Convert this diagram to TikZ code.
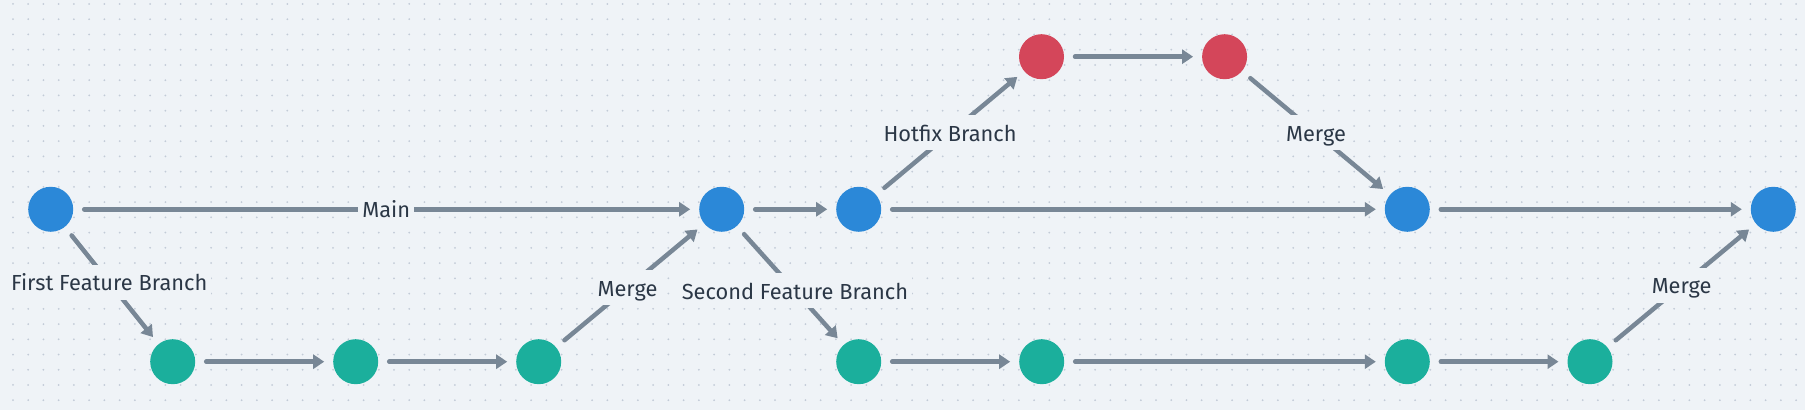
\documentclass[tikz,border=0pt]{standalone}
\usepackage{fontspec}
\setmainfont{Fira Sans}
\usetikzlibrary{arrows.meta}

\definecolor{bgcol}{HTML}{EFF3F7}
\definecolor{dotcol}{HTML}{C2CBD7}
\definecolor{maincol}{HTML}{2B88D8}
\definecolor{featcol}{HTML}{1BAF9C}
\definecolor{fixcol}{HTML}{D4465A}
\definecolor{linecol}{HTML}{788796}
\definecolor{txtcol}{HTML}{2B3746}

\begin{document}
\begin{tikzpicture}[x=0.5pt, y=-0.5pt,
    commit/.style={circle, inner sep=0pt, minimum size=22.5pt, outer sep=4.5pt},
    mainc/.style={commit, fill=maincol},
    featc/.style={commit, fill=featcol},
    fixc/.style={commit, fill=fixcol},
    link/.style={draw=linecol, line width=2.25pt, line cap=round,
      -{Triangle[length=5.5pt, width=7pt]}, shorten <=1pt},
    lbl/.style={fill=bgcol, text=txtcol, inner xsep=2pt, inner ysep=3.5pt,
      text height=9.5pt, text depth=1pt,
      font=\fontsize{10.9}{13}\selectfont}]

  % fond pointille
  \fill[bgcol] (0,0) rectangle (1805,410);
  \useasboundingbox (0,0) rectangle (1805,410);
  \foreach \i in {0,...,117}
    \foreach \j in {0,...,26}
      \fill[dotcol] (13+15.24*\i, 4+15.24*\j) circle (0.5pt);

  % branche principale
  \def\ym{209.3}
  \node[mainc] (m0) at (50.7,\ym) {};
  \node[mainc] (m1) at (721.7,\ym) {};
  \node[mainc] (m2) at (858.7,\ym) {};
  \node[mainc] (m3) at (1407.3,\ym) {};
  \node[mainc] (m4) at (1773.3,\ym) {};

  % branches de fonctionnalite
  \def\yf{361.7}
  \node[featc] (f1) at (172.7,\yf) {};
  \node[featc] (f2) at (355.7,\yf) {};
  \node[featc] (f3) at (538.7,\yf) {};
  \node[featc] (f4) at (858.7,\yf) {};
  \node[featc] (f5) at (1041.7,\yf) {};
  \node[featc] (f6) at (1407.3,\yf) {};
  \node[featc] (f7) at (1590,\yf) {};

  % branche hotfix
  \def\yh{56.7}
  \node[fixc] (h1) at (1041.5,\yh) {};
  \node[fixc] (h2) at (1224.6,\yh) {};

  % liens principaux
  \draw[link] (m0) -- node[lbl]{Main} (m1);
  \draw[link] (m1) -- (m2);
  \draw[link] (m2) -- (m3);
  \draw[link] (m3) -- (m4);

  % premiere fonctionnalite
  \draw[link] (m0) -- node[lbl, pos=0.47]{First Feature Branch} (f1);
  \draw[link] (f1) -- (f2);
  \draw[link] (f2) -- (f3);
  \draw[link] (f3) -- node[lbl, pos=0.48]{Merge} (m1);

  % seconde fonctionnalite
  \draw[link] (m1) -- node[lbl, pos=0.55]{Second Feature Branch} (f4);
  \draw[link] (f4) -- (f5);
  \draw[link] (f5) -- (f6);
  \draw[link] (f6) -- (f7);
  \draw[link] (f7) -- node[lbl]{Merge} (m4);

  % hotfix
  \draw[link] (m2) -- node[lbl]{Hotfix Branch} (h1);
  \draw[link] (h1) -- (h2);
  \draw[link] (h2) -- node[lbl]{Merge} (m3);
\end{tikzpicture}
\end{document}
